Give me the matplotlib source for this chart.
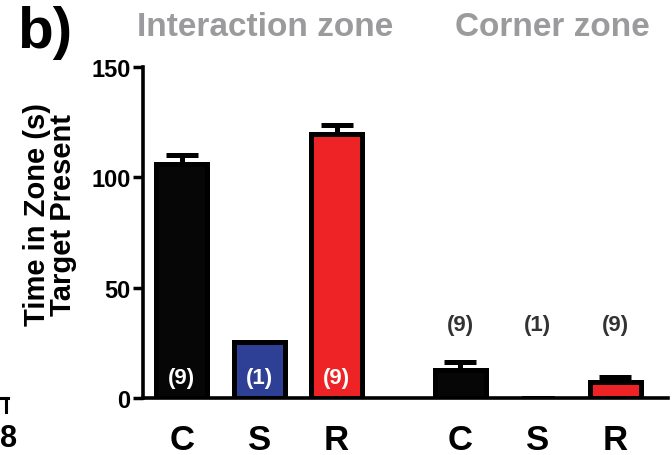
import matplotlib
matplotlib.use('Agg')
import matplotlib.pyplot as plt
from matplotlib.lines import Line2D

plt.rcParams['font.family'] = ['Liberation Sans', 'DejaVu Sans']
plt.rcParams['font.weight'] = 'bold'

# data
groups = ['C', 'S', 'R', 'C', 'S', 'R']
positions = [0, 1, 2, 3.6, 4.6, 5.6]
time_in_zone = [106, 25.5, 119.5, 12.5, 0, 7.3]
sem = [4.2, 0, 4.4, 3.8, 0, 2.2]
n_animals = ['(9)', '(1)', '(9)', '(9)', '(1)', '(9)']
zone_titles = ['Interaction zone', 'Corner zone']

bar_colors = ['#060606', '#2e3f96', '#ee2326', '#060606', '#2e3f96', '#ee2326']

fig = plt.figure(figsize=(6.72, 4.56), dpi=100)
ax = fig.add_axes([143 / 672, 1 - 399 / 456, (668 - 143) / 672, (399 - 68) / 456])

edge_w = [0 if v == 0 else 3.6 for v in time_in_zone]
ax.errorbar(positions, time_in_zone, yerr=[[0] * len(sem), sem], fmt='none',
            ecolor='black', elinewidth=3.6, capsize=11.5, capthick=3.6, zorder=1)
ax.bar(positions, time_in_zone, width=0.66, color=bar_colors,
       edgecolor='black', linewidth=edge_w, zorder=2)

# n labels: inside bars for interaction zone, above for corner zone
for i, (x, lab) in enumerate(zip(positions, n_animals)):
    if i < 3:
        ax.text(x, 9.5, lab, ha='center', va='center', color='white',
                fontsize=16, fontweight='bold', zorder=3)
    else:
        ax.text(x, 33.5, lab, ha='center', va='center', color='#333333',
                fontsize=16, fontweight='bold', zorder=3)

ax.set_xlim(-0.5, 6.28)
ax.set_ylim(0, 150)
ax.set_yticks([0, 50, 100, 150])
ax.set_xticks(positions)
ax.set_xticklabels(groups, fontsize=25, fontweight='bold')
ax.tick_params(axis='x', length=0, pad=18)
ax.tick_params(axis='y', length=7, width=2.5, labelsize=17, pad=2)
for lab in ax.get_yticklabels():
    lab.set_fontweight('bold')

for side in ['top', 'right']:
    ax.spines[side].set_visible(False)
for side in ['left', 'bottom']:
    ax.spines[side].set_linewidth(2.6)

fig.text(50 / 672, 1 - 215 / 456, 'Time in Zone (s)\nTarget Present', rotation=90,
         ha='center', va='center', fontsize=21, fontweight='bold',
         linespacing=0.92)

fig.text(265 / 672, 1 - 36 / 456, zone_titles[0], ha='center', va='baseline',
         fontsize=24, fontweight='bold', color='#9b9b9d')
fig.text(552 / 672, 1 - 36 / 456, zone_titles[1], ha='center', va='baseline',
         fontsize=24, fontweight='bold', color='#9b9b9d')

fig.text(17 / 672, 1 - 48 / 456, 'b)', ha='left', va='baseline',
         fontsize=42, fontweight='bold')

# leftover bits of the neighbouring panel
fig.text(0, 1 - 447 / 456, '8', ha='left', va='baseline', fontsize=22,
         fontweight='bold')
fig.add_artist(Line2D([0, 7.5 / 672], [1 - 399 / 456, 1 - 399 / 456],
                      color='black', linewidth=2.2, transform=fig.transFigure))
fig.add_artist(Line2D([6 / 672, 6 / 672], [1 - 399 / 456, 1 - 413 / 456],
                      color='black', linewidth=2.2, transform=fig.transFigure))

fig.savefig('out.png', dpi=100)
